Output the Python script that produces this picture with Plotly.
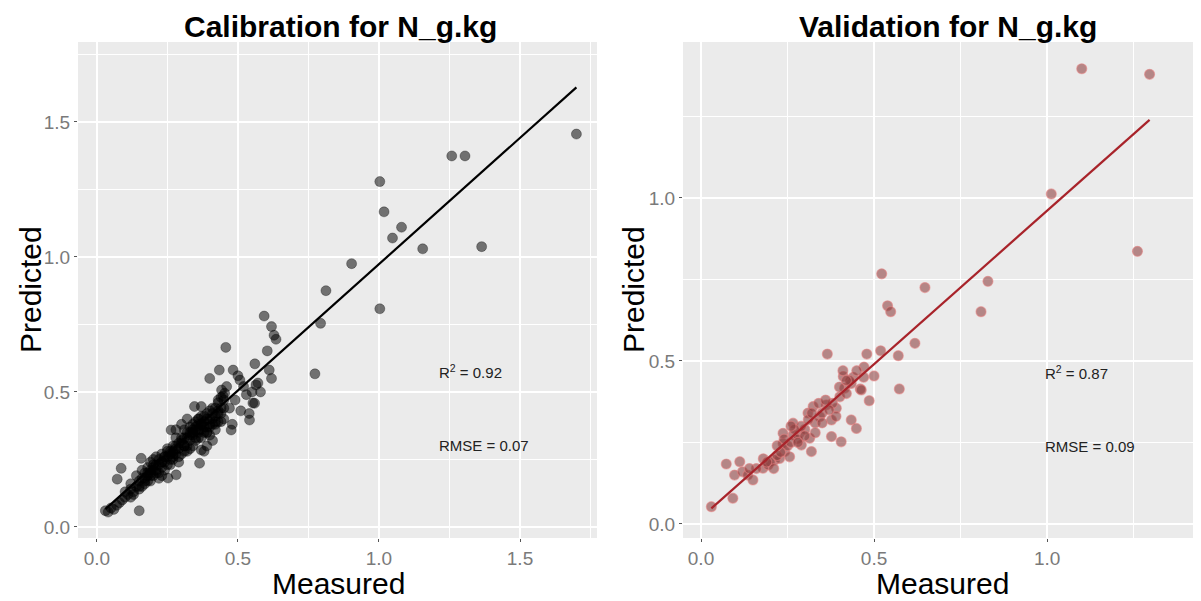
import plotly.graph_objects as go

# ---------------- Calibration data (Measured vs Predicted) ----------------
cal_measured = [
    1.70, 1.258, 1.305, 1.003, 1.018, 1.08, 1.048, 1.155, 1.364, 0.903, 0.812, 1.003, 0.793, 0.773,
    0.593, 0.619, 0.635, 0.628, 0.604, 0.457, 0.56, 0.611, 0.619, 0.564, 0.434, 0.40, 0.483, 0.507,
    0.442, 0.447, 0.553, 0.541, 0.559, 0.571, 0.476, 0.48, 0.453, 0.346, 0.37, 0.50, 0.52, 0.53,
    0.49, 0.51, 0.54, 0.58, 0.47, 0.46, 0.43, 0.55,
    0.03, 0.04, 0.05, 0.06, 0.07, 0.08, 0.09, 0.10, 0.10, 0.11, 0.12, 0.12, 0.13, 0.14, 0.15, 0.086,
    0.072, 0.14, 0.15, 0.16, 0.16, 0.17, 0.17, 0.18, 0.18, 0.19, 0.19, 0.20, 0.20, 0.21, 0.21, 0.22,
    0.22, 0.23, 0.23, 0.157, 0.24, 0.24, 0.25, 0.252, 0.26, 0.26, 0.27, 0.27, 0.28, 0.281, 0.29, 0.29,
    0.30, 0.30, 0.31, 0.31, 0.32, 0.32, 0.33, 0.33, 0.34, 0.34, 0.35, 0.35, 0.36, 0.36, 0.364, 0.37,
    0.37, 0.37, 0.38, 0.38, 0.39, 0.39, 0.40, 0.40, 0.41, 0.41, 0.42, 0.42, 0.43, 0.43, 0.44, 0.44,
    0.45, 0.45, 0.263, 0.28, 0.30, 0.32, 0.28, 0.35, 0.39, 0.41, 0.38,
    0.13, 0.15, 0.17, 0.19, 0.21, 0.23, 0.25, 0.27, 0.29, 0.31, 0.33, 0.35, 0.37, 0.39, 0.41, 0.43,
    0.18, 0.20, 0.22, 0.24, 0.26, 0.28, 0.30, 0.32, 0.34, 0.36, 0.38, 0.40, 0.42, 0.44, 0.12, 0.16,
    0.19, 0.23, 0.27, 0.33, 0.36, 0.39, 0.42, 0.45, 0.20, 0.25, 0.31, 0.34, 0.37, 0.40,
    0.18, 0.20, 0.22, 0.24, 0.26, 0.28, 0.30, 0.32, 0.34, 0.36, 0.38, 0.40, 0.42, 0.44, 0.36, 0.33,
    0.31, 0.27, 0.23, 0.21, 0.17, 0.15, 0.25, 0.29, 0.35, 0.39, 0.41, 0.43, 0.37, 0.19,
]
cal_predicted = [
    1.455, 1.374, 1.374, 1.279, 1.167, 1.11, 1.07, 1.03, 1.038, 0.975, 0.875, 0.808, 0.754, 0.567,
    0.781, 0.742, 0.695, 0.71, 0.652, 0.665, 0.604, 0.581, 0.55, 0.526, 0.581, 0.55, 0.581, 0.544,
    0.507, 0.485, 0.459, 0.396, 0.458, 0.533, 0.359, 0.38, 0.495, 0.446, 0.446, 0.56, 0.52, 0.49,
    0.47, 0.43, 0.42, 0.50, 0.44, 0.52, 0.47, 0.50,
    0.06, 0.055, 0.07, 0.065, 0.08, 0.09, 0.10, 0.11, 0.13, 0.12, 0.14, 0.16, 0.13, 0.15, 0.06, 0.217,
    0.177, 0.19, 0.17, 0.18, 0.21, 0.16, 0.20, 0.19, 0.22, 0.17, 0.24, 0.21, 0.19, 0.23, 0.26, 0.20,
    0.25, 0.22, 0.27, 0.254, 0.24, 0.21, 0.26, 0.181, 0.28, 0.23, 0.25, 0.30, 0.27, 0.193, 0.29, 0.24,
    0.31, 0.27, 0.28, 0.33, 0.30, 0.35, 0.32, 0.37, 0.34, 0.30, 0.36, 0.39, 0.33, 0.38, 0.236, 0.285,
    0.36, 0.41, 0.35, 0.39, 0.37, 0.42, 0.34, 0.40, 0.38, 0.44, 0.36, 0.41, 0.39, 0.46, 0.42, 0.48,
    0.40, 0.44, 0.359, 0.36, 0.38, 0.40, 0.33, 0.32, 0.30, 0.32, 0.28,
    0.12, 0.14, 0.17, 0.20, 0.21, 0.24, 0.23, 0.28, 0.26, 0.30, 0.34, 0.33, 0.38, 0.35, 0.40, 0.42,
    0.17, 0.23, 0.18, 0.26, 0.25, 0.30, 0.33, 0.28, 0.36, 0.35, 0.41, 0.37, 0.44, 0.39, 0.11, 0.15,
    0.21, 0.19, 0.27, 0.29, 0.40, 0.35, 0.38, 0.47, 0.25, 0.29, 0.36, 0.38, 0.33, 0.43,
    0.20, 0.22, 0.23, 0.26, 0.27, 0.29, 0.32, 0.33, 0.35, 0.36, 0.37, 0.38, 0.39, 0.44, 0.40, 0.35,
    0.30, 0.26, 0.24, 0.20, 0.18, 0.15, 0.28, 0.31, 0.37, 0.40, 0.42, 0.43, 0.38, 0.19,
]
cal_fit_x = [0.03, 1.70]
cal_fit_y = [0.066, 1.628]

# ---------------- Validation data ----------------
val_measured = [
    1.10, 1.296, 1.012, 1.261, 0.829, 0.809, 0.522, 0.647, 0.539, 0.548, 0.618, 0.365, 0.479, 0.519,
    0.57, 0.471, 0.50, 0.573, 0.411, 0.46, 0.486,
    0.03, 0.092, 0.073, 0.112, 0.097, 0.12, 0.135, 0.15, 0.179, 0.194, 0.213, 0.227, 0.242, 0.237,
    0.266, 0.237, 0.266, 0.285, 0.29, 0.314, 0.319, 0.256, 0.309, 0.324, 0.343, 0.362, 0.377, 0.391,
    0.401, 0.415, 0.434, 0.463, 0.434, 0.449, 0.377, 0.405,
    0.16, 0.20, 0.22, 0.25, 0.28, 0.30, 0.33, 0.35, 0.38, 0.40, 0.42, 0.44, 0.34, 0.21, 0.18, 0.26,
    0.29, 0.41, 0.43, 0.39, 0.37, 0.31, 0.47,
    0.19, 0.23, 0.27, 0.30, 0.32, 0.35, 0.24, 0.28, 0.36, 0.42, 0.45, 0.14, 0.26, 0.33, 0.22,
]
val_predicted = [
    1.396, 1.379, 1.012, 0.836, 0.744, 0.651, 0.767, 0.725, 0.669, 0.651, 0.554, 0.521, 0.521, 0.531,
    0.516, 0.481, 0.454, 0.414, 0.452, 0.414, 0.378,
    0.053, 0.079, 0.184, 0.191, 0.15, 0.16, 0.15, 0.135, 0.171, 0.181, 0.196, 0.201, 0.222, 0.247,
    0.273, 0.278, 0.309, 0.278, 0.242, 0.263, 0.222, 0.206, 0.34, 0.36, 0.329, 0.365, 0.319, 0.355,
    0.39, 0.416, 0.431, 0.411, 0.319, 0.293, 0.268, 0.252,
    0.17, 0.19, 0.21, 0.24, 0.26, 0.29, 0.31, 0.34, 0.37, 0.42, 0.40, 0.45, 0.37, 0.17, 0.20, 0.25,
    0.30, 0.47, 0.44, 0.33, 0.35, 0.32, 0.45,
    0.19, 0.22, 0.29, 0.27, 0.34, 0.31, 0.26, 0.25, 0.38, 0.44, 0.47, 0.17, 0.30, 0.28, 0.24,
]
val_fit_x = [0.03, 1.296]
val_fit_y = [0.048, 1.239]

titles = ["Calibration for N_g.kg", "Validation for N_g.kg"]
stats_cal = ["R<sup>2</sup> = 0.92", "RMSE = 0.07"]
stats_val = ["R<sup>2</sup> = 0.87", "RMSE = 0.09"]
x_label = "Measured"
y_label = "Predicted"
tick_vals = [0.0, 0.5, 1.0, 1.5]
tick_text = ["0.0", "0.5", "1.0", "1.5"]

# The page body adds an 8 px margin; positions below are page pixels.
OFF = 8
W, H = 1201 - OFF, 601 - OFF
FONT = "Liberation Sans, Arial, sans-serif"

def px_x(p):
    return (p - OFF) / W

def px_y(p):
    return 1 - (p - OFF) / H

fig = go.Figure()

fig.add_trace(go.Scatter(
    x=cal_measured, y=cal_predicted, mode="markers",
    marker=dict(size=10, color="rgba(0,0,0,0.52)", line=dict(color="rgba(0,0,0,0.3)", width=1)),
    xaxis="x", yaxis="y", showlegend=False, hoverinfo="x+y"))
fig.add_trace(go.Scatter(
    x=cal_fit_x, y=cal_fit_y, mode="lines", line=dict(color="black", width=2.2),
    xaxis="x", yaxis="y", showlegend=False))

fig.add_trace(go.Scatter(
    x=val_measured, y=val_predicted, mode="markers",
    marker=dict(size=10, color="rgba(140,60,60,0.58)", line=dict(color="rgba(230,130,130,0.55)", width=1.2)),
    xaxis="x2", yaxis="y2", showlegend=False, hoverinfo="x+y"))
fig.add_trace(go.Scatter(
    x=val_fit_x, y=val_fit_y, mode="lines", line=dict(color="#A8232A", width=2.2),
    xaxis="x2", yaxis="y2", showlegend=False))

axis_common = dict(
    showgrid=True, gridcolor="white", gridwidth=1.5,
    zeroline=False, showline=False,
    ticks="outside", ticklen=3, tickcolor="#555555", tickwidth=1,
    tickfont=dict(family=FONT, size=19, color="#7a7a7a"),
    tickvals=tick_vals, ticktext=tick_text,
    minor=dict(showgrid=True, gridcolor="white", gridwidth=0.7, dtick=0.25, ticks=""),
)

fig.update_layout(
    width=W, height=H,
    margin=dict(l=0, r=0, t=0, b=0),
    paper_bgcolor="white", plot_bgcolor="#EBEBEB",
    xaxis=dict(domain=[px_x(78), px_x(597)], range=[-0.067, 1.773], anchor="y", **axis_common),
    yaxis=dict(domain=[px_y(538), px_y(42)], range=[-0.041, 1.796], anchor="x", **axis_common),
    xaxis2=dict(domain=[px_x(683), px_x(1197)], range=[-0.052, 1.433], anchor="y2", **axis_common),
    yaxis2=dict(domain=[px_y(538), px_y(42)], range=[-0.043, 1.478], anchor="x2", **axis_common),
)

ann = []
for txt, cx in zip(titles, [340, 948]):
    ann.append(dict(text="<b>" + txt + "</b>", x=px_x(cx), y=px_y(27), xref="paper", yref="paper",
                    showarrow=False, font=dict(family=FONT, size=30, color="black"),
                    xanchor="center", yanchor="middle"))
for cx in [338, 942]:
    ann.append(dict(text=x_label, x=px_x(cx), y=px_y(583), xref="paper", yref="paper",
                    showarrow=False, font=dict(family=FONT, size=30, color="black"),
                    xanchor="center", yanchor="middle"))
for cx in [30, 633]:
    ann.append(dict(text=y_label, x=px_x(cx), y=px_y(290), xref="paper", yref="paper",
                    showarrow=False, textangle=-90, font=dict(family=FONT, size=30, color="black"),
                    xanchor="center", yanchor="middle"))
for txt, (xx, yy) in zip(stats_cal, [(1.206, 0.574), (1.206, 0.300)]):
    ann.append(dict(text=txt, x=xx, y=yy, xref="x", yref="y", showarrow=False, xanchor="left",
                    font=dict(family=FONT, size=15, color="#222222")))
for txt, (xx, yy) in zip(stats_val, [(0.988, 0.466), (0.988, 0.239)]):
    ann.append(dict(text=txt, x=xx, y=yy, xref="x2", yref="y2", showarrow=False, xanchor="left",
                    font=dict(family=FONT, size=15, color="#222222")))
fig.update_layout(annotations=ann)

fig.write_html("out.html")
